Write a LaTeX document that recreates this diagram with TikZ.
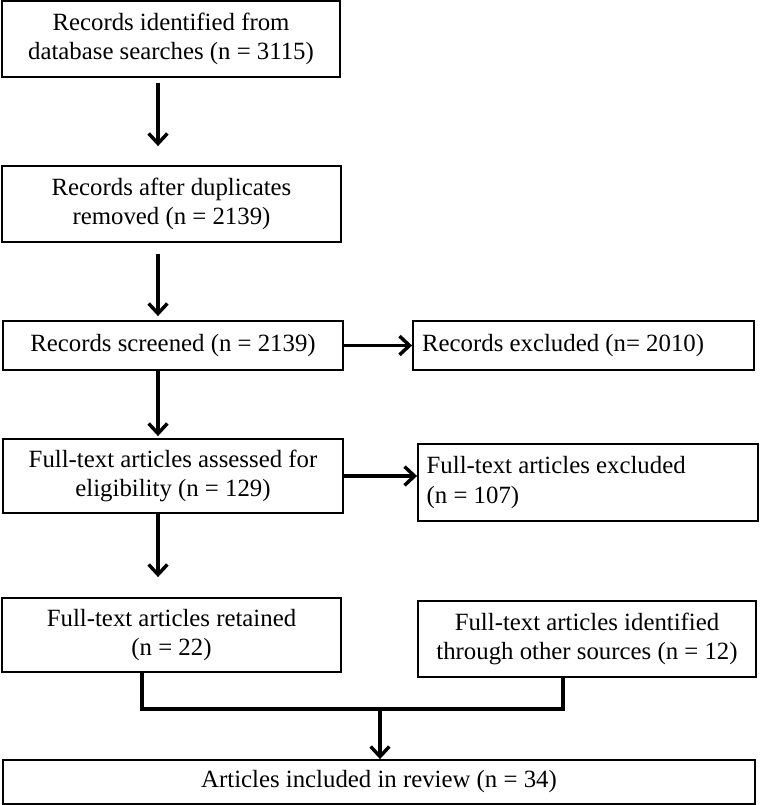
\documentclass[tikz,border=0pt]{standalone}
\usepackage{fontspec}
\setmainfont{Liberation Serif}
\usetikzlibrary{arrows.meta}
\begin{document}
\begin{tikzpicture}[x=0.75pt,y=-0.75pt,
  box/.style={draw=black, line width=1.4pt, inner sep=0pt, align=center,
    font=\fontsize{18.6pt}{22pt}\selectfont},
  lbox/.style={box, align=flush left},
  arr/.style={line width=2.6pt, -{Straight Barb[length=7.5pt,width=14pt,line width=2.6pt]}},
  conn/.style={line width=2.6pt, line join=miter}]
\useasboundingbox (0,0) rectangle (760,805);
\node[box, minimum width=253.5pt, minimum height=57pt] (b1) at (171,39)
  {Records identified from\\database searches (n = 3115)};
\node[box, minimum width=254.25pt, minimum height=57pt] (b2) at (171.5,204)
  {Records after duplicates\\removed (n = 2139)};
\node[box, minimum width=255pt, minimum height=36.75pt] (b3) at (173,345.5)
  {Records screened (n = 2139)};
\node[lbox, minimum width=255.75pt, minimum height=36.75pt, text width=242pt] (b4) at (583.5,345.5)
  {Records excluded (n= 2010)};
\node[box, minimum width=255pt, minimum height=55.5pt] (b5) at (173,476)
  {Full-text articles assessed for\\eligibility (n = 129)};
\node[lbox, minimum width=255pt, minimum height=57.75pt, text width=242pt] (b6) at (588,482.5)
  {Full-text articles excluded\\(n = 107)};
\node[box, minimum width=254.25pt, minimum height=55.5pt] (b7) at (171.5,635)
  {Full-text articles retained\\(n = 22)};
\node[box, minimum width=253.5pt, minimum height=57pt] (b8) at (587,639)
  {Full-text articles identified\\through other sources (n = 12)};
\node[box, minimum width=564pt, minimum height=33pt] (b9) at (379,782)
  {Articles included in review (n = 34)};

\coordinate (xm) at (158,0);
\coordinate (xl) at (142,0);
\coordinate (xr) at (563,0);
\coordinate (xc) at (380,0);
\coordinate (yj) at (0,709);

\draw[arr, shorten <=3.75pt, shorten >=14.25pt] (b1.south -| xm) -- (b2.north -| xm);
\draw[arr, shorten <=8.25pt, shorten >=3pt] (b2.south -| xm) -- (b3.north -| xm);
\draw[arr, shorten >=1.5pt] (b3.south -| xm) -- (b5.north -| xm);
\draw[arr, shorten >=15pt] (b5.south -| xm) -- (b7.north -| xm);
\draw[arr] (b3.east) -- (b3.east -| b4.west);
\draw[arr] (b5.east) -- (b5.east -| b6.west);
\draw[conn] (b7.south -| xl) -- (xl |- yj) -- (xr |- yj) -- (b8.south -| xr);
\draw[arr] (xc |- yj) -- (b9.north -| xc);
\end{tikzpicture}
\end{document}
